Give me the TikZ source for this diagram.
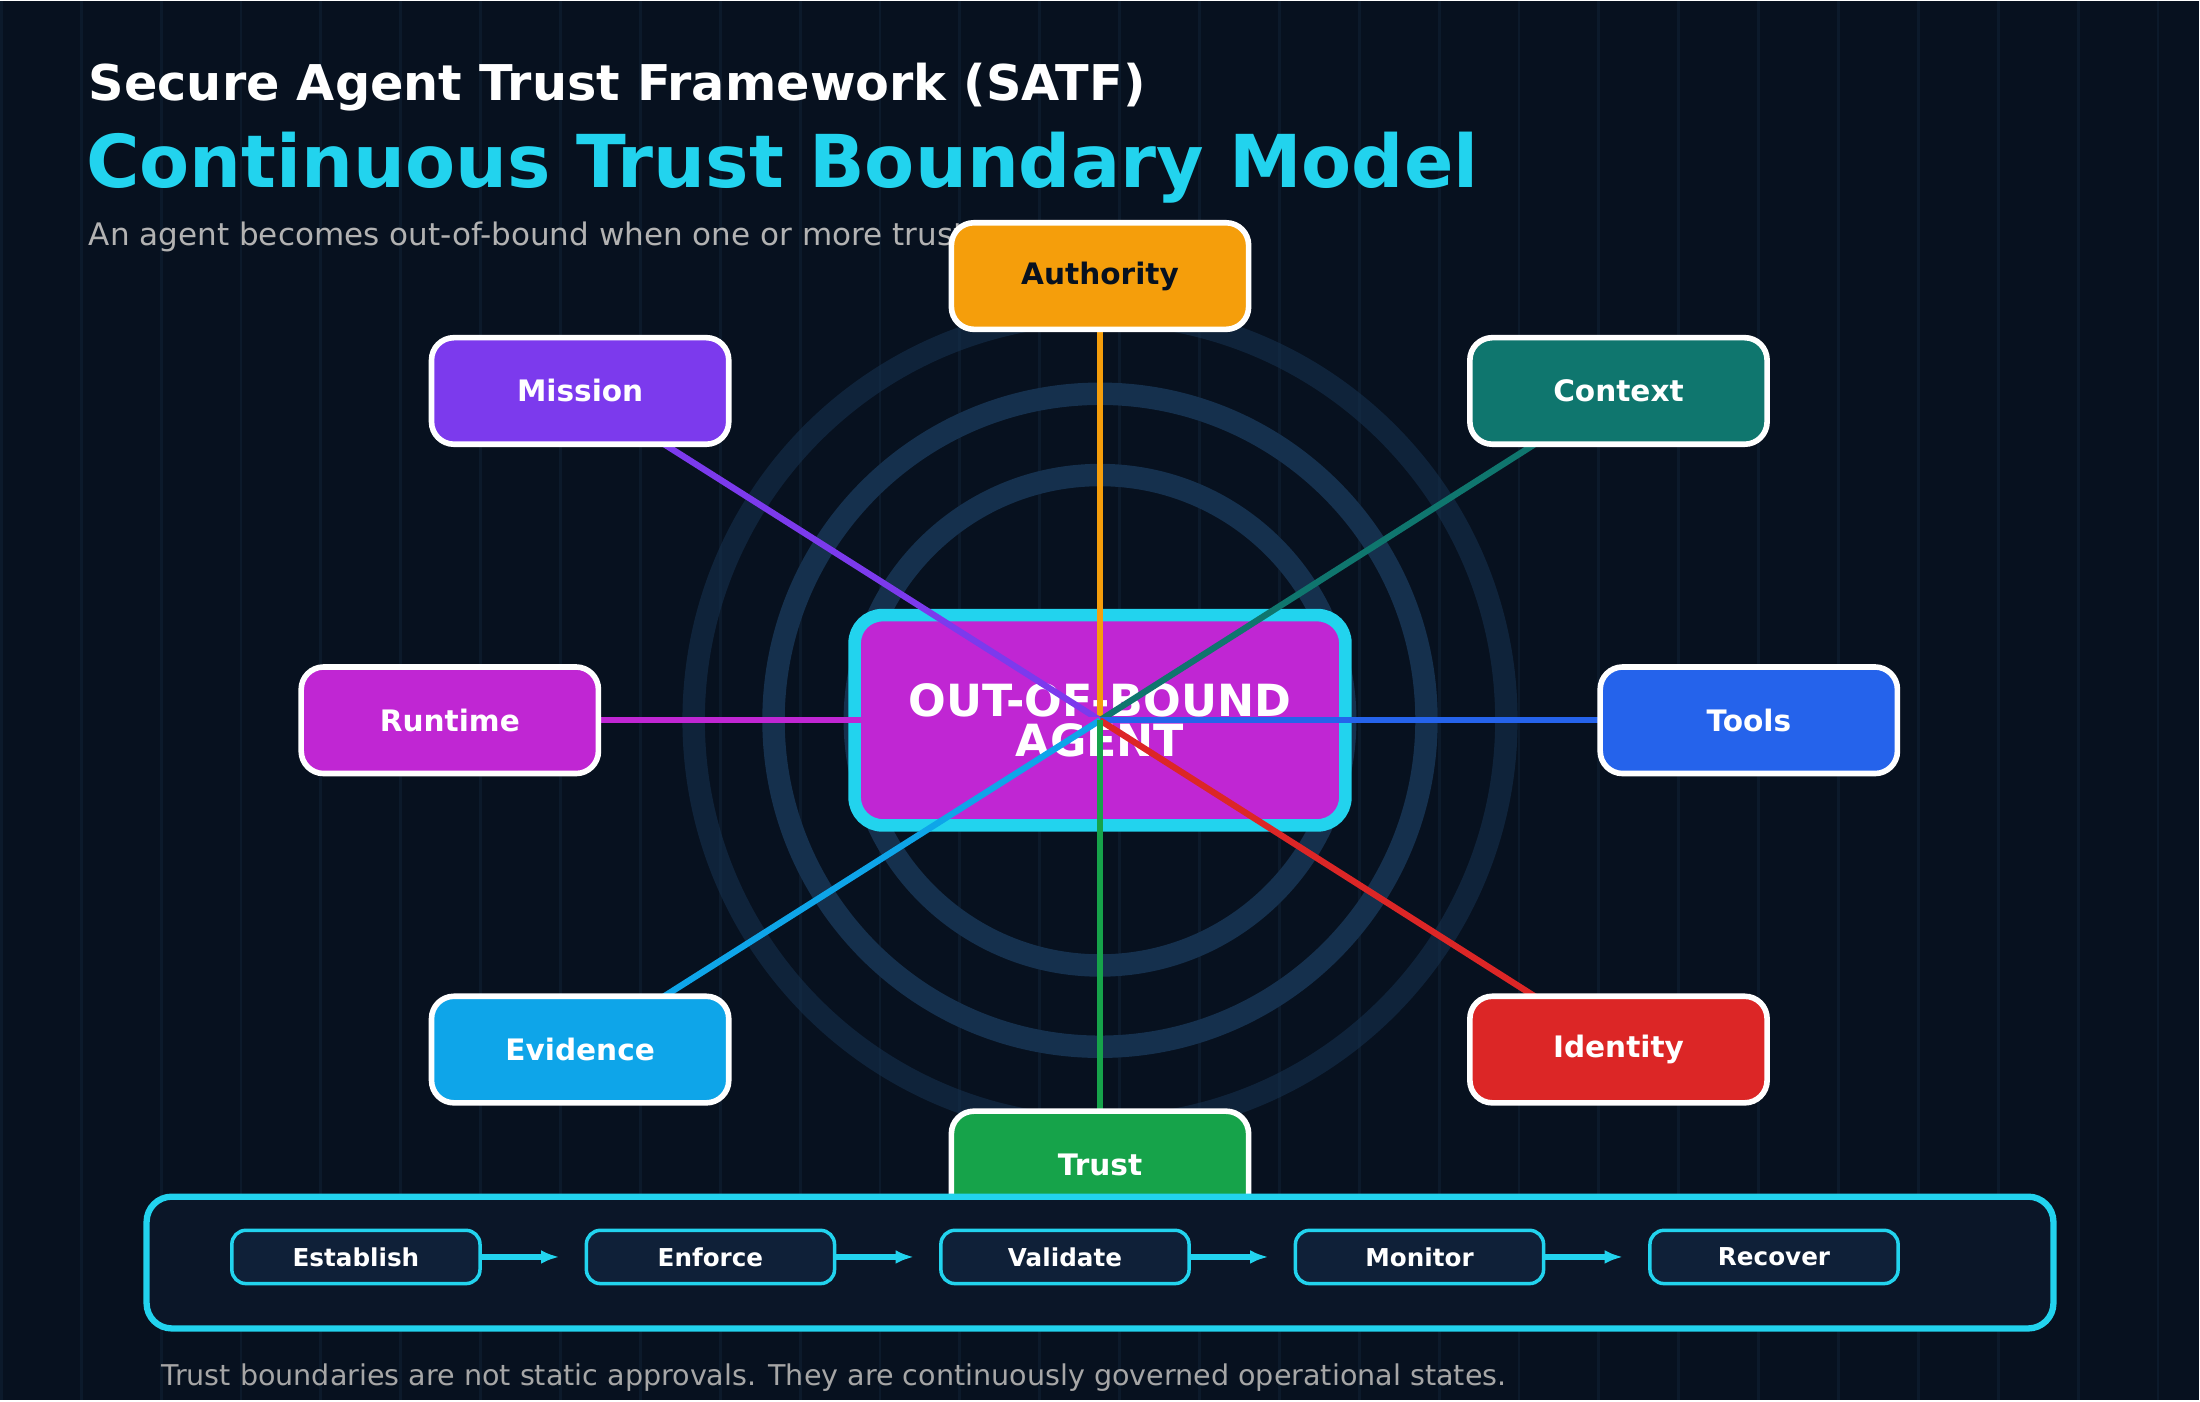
\documentclass[tikz,border=0pt]{standalone}
\usepackage{fontspec}
\setmainfont{DejaVu Sans}
\usetikzlibrary{arrows.meta}
\definecolor{bgcol}{HTML}{07111F}
\definecolor{gridcol}{HTML}{0C1A2B}
\definecolor{ringcol}{HTML}{15304D}
\definecolor{cyancol}{HTML}{22D3EE}
\definecolor{panelcol}{HTML}{0B1628}
\definecolor{stepcol}{HTML}{0F2038}
\definecolor{authcol}{HTML}{F59E0B}
\definecolor{misscol}{HTML}{7C3AED}
\definecolor{ctxcol}{HTML}{0F766E}
\definecolor{runcol}{HTML}{C026D3}
\definecolor{toolcol}{HTML}{2563EB}
\definecolor{evidcol}{HTML}{0EA5E9}
\definecolor{idcol}{HTML}{DC2626}
\definecolor{trustcol}{HTML}{16A34A}
\tikzset{
  bound/.style={draw=white, line width=0.4mm, rounded corners=0.16cm,
    minimum width=2.12cm, minimum height=0.76cm, text=white,
    font=\fontsize{6}{7}\selectfont\bfseries},
  phase/.style={draw=cyancol, line width=0.25mm, fill=stepcol, rounded corners=0.1cm,
    minimum width=1.77cm, minimum height=0.38cm, text=white,
    font=\fontsize{5}{6}\selectfont\bfseries},
  spoke/.style={line width=0.45mm},
  ring/.style={draw=ringcol, line width=1.6mm}
}
\begin{document}
\begin{tikzpicture}[x=0.01cm,y=-0.01cm]
  \fill [bgcol] (0,0) rectangle (1568,998);
  \draw [gridcol, line width=0.2mm] (0,0) grid[xstep=57,ystep=57] (1568,998);
  \useasboundingbox (0,0) rectangle (1568,998);
  % titles
  \node (title) [anchor=base west, text=white, font=\fontsize{10}{12}\selectfont\bfseries] at (50,71) {Secure Agent Trust Framework (SATF)};
  \node (heading) [anchor=base west, text=cyancol, font=\fontsize{14.8}{17}\selectfont\bfseries] at (48,133) {Continuous Trust Boundary Model};
  \node (subtitle) [anchor=base west, text=gray!60, font=\fontsize{6.3}{8}\selectfont] at (50,174) {An agent becomes out-of-bound when one or more trust boundaries fail.};
  % rings
  \coordinate (core) at (784,513);
  \draw [ring, draw opacity=0.6] (core) circle (290);
  \draw [ring] (core) circle (233);
  \draw [ring] (core) circle (175);
  % agent
  \node (agent) [draw=cyancol, line width=0.9mm, fill=runcol, rounded corners=0.2cm,
    minimum width=3.5cm, minimum height=1.5cm, text=white, align=center,
    font=\fontsize{9}{8}\selectfont\bfseries] at (core) {OUT-OF-BOUND\\AGENT};
  % boundaries
  \coordinate (pa) at (784,196);
  \coordinate (pm) at (413,278);
  \coordinate (pc) at (1154,278);
  \coordinate (pr) at (320,513);
  \coordinate (pt) at (1247,513);
  \coordinate (pe) at (413,748);
  \coordinate (pi) at (1154,748);
  \coordinate (pu) at (784,830);
  \draw [spoke, authcol] (core) -- (pa);
  \draw [spoke, misscol] (core) -- (pm);
  \draw [spoke, ctxcol] (core) -- (pc);
  \draw [spoke, runcol] (core) -- (pr);
  \draw [spoke, toolcol] (core) -- (pt);
  \draw [spoke, evidcol] (core) -- (pe);
  \draw [spoke, idcol] (core) -- (pi);
  \draw [spoke, trustcol] (core) -- (pu);
  \node (authority) [bound, fill=authcol, text=bgcol] at (pa) {Authority};
  \node (mission) [bound, fill=misscol] at (pm) {Mission};
  \node (context) [bound, fill=ctxcol] at (pc) {Context};
  \node (runtime) [bound, fill=runcol] at (pr) {Runtime};
  \node (tools) [bound, fill=toolcol] at (pt) {Tools};
  \node (evidence) [bound, fill=evidcol] at (pe) {Evidence};
  \node (identity) [bound, fill=idcol] at (pi) {Identity};
  \node (trust) [bound, fill=trustcol] at (pu) {Trust};
  % lifecycle
  \node (panel) [draw=cyancol, line width=0.45mm, fill=panelcol, rounded corners=0.18cm,
    minimum width=13.6cm, minimum height=0.94cm] at (784,900) {};
  \node (establish) [phase] at (253,896) {Establish};
  \node (enforce) [phase] at (506,896) {Enforce};
  \node (validate) [phase] at (759,896) {Validate};
  \node (monitor) [phase] at (1012,896) {Monitor};
  \node (recover) [phase] at (1265,896) {Recover};
  \foreach \a/\b in {establish/enforce, enforce/validate, validate/monitor, monitor/recover}
    \draw [cyancol, line width=0.45mm, -{Latex[length=1.3mm]}, shorten >=0.18cm] (\a) -- (\b);
  \node (footer) [anchor=base west, text=gray!70, font=\fontsize{5.8}{7}\selectfont] at (102,988) {Trust boundaries are not static approvals. They are continuously governed operational states.};
\end{tikzpicture}
\end{document}
